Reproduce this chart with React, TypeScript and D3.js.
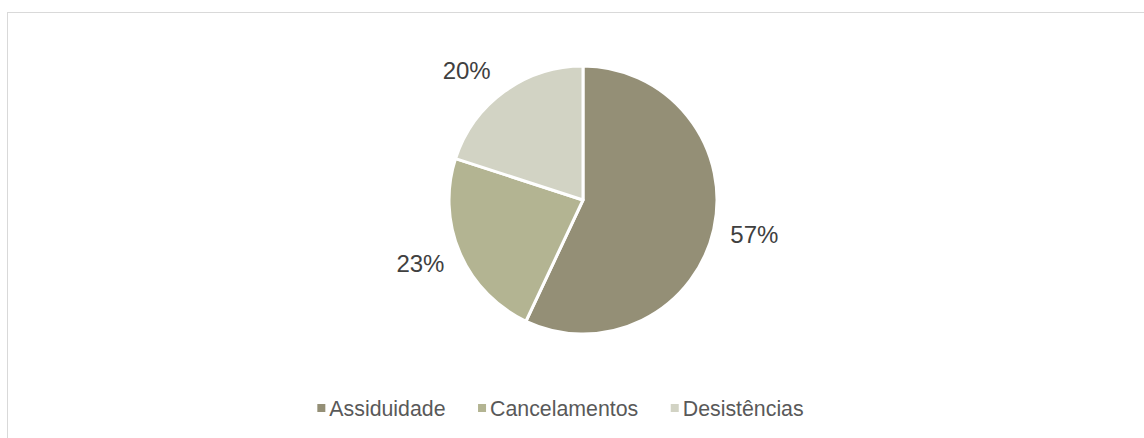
import React, { useEffect, useRef } from "react";
import * as d3 from "d3";

const categories = ["Assiduidade", "Cancelamentos", "Desistências"];
const values = [57, 23, 20];
const colors = ["#948F76", "#B3B492", "#D2D3C4"];

const W = 1144;
const H = 438;

export default function App() {
  const ref = useRef<SVGSVGElement | null>(null);

  useEffect(() => {
    const svg = d3.select(ref.current);
    svg.selectAll("*").remove();

    svg
      .append("rect")
      .attr("x", 7.5)
      .attr("y", 12.5)
      .attr("width", 1300)
      .attr("height", 600)
      .attr("fill", "#fff")
      .attr("stroke", "#D9D9D9")
      .attr("stroke-width", 1);

    const cx = 583;
    const cy = 200;
    const r = 134;

    const pie = d3.pie<number>().sort(null).value((d) => d);
    const arcs = pie(values);
    const arc = d3.arc<d3.PieArcDatum<number>>().innerRadius(0).outerRadius(r);

    const g = svg.append("g").attr("transform", `translate(${cx},${cy})`);
    g.selectAll("path")
      .data(arcs)
      .join("path")
      .attr("d", arc as any)
      .attr("fill", (_d, i) => colors[i])
      .attr("stroke", "#fff")
      .attr("stroke-width", 3)
      .attr("stroke-linejoin", "round");

    const total = d3.sum(values);
    const fs = 24;
    const L = 151;
    arcs.forEach((a) => {
      const mid = (a.startAngle + a.endAngle) / 2;
      const dx = Math.sin(mid);
      const dy = -Math.cos(mid);
      const txt = `${Math.round((a.value / total) * 100)}%`;
      const t = g
        .append("text")
        .attr("font-family", "Liberation Sans, Arial, sans-serif")
        .attr("font-size", fs)
        .attr("fill", "#404040")
        .attr("text-anchor", "middle")
        .text(txt);
      const w = (t.node() as SVGTextElement).getComputedTextLength();
      const h = 18;
      const f = Math.max(-1, Math.min(1, dx * 2.2));
      const x = dx * L + (f * w) / 2 + (Math.abs(dx) < 0.7 ? dx * 6 : 0);
      const y = dy * L + (dy * h) / 2;
      t.attr("x", x).attr("y", y + fs * 0.716 / 2);
    });

    // legend
    const lfs = 21.33;
    const lg = svg.append("g");
    const items = categories.map((c, i) => {
      const gi = lg.append("g");
      gi.append("rect")
        .attr("width", 8)
        .attr("height", 8)
        .attr("fill", colors[i]);
      const t = gi
        .append("text")
        .attr("x", 12)
        .attr("y", 11.5)
        .attr("font-family", "Liberation Sans, Arial, sans-serif")
        .attr("font-size", lfs)
        .attr("fill", "#595959")
        .text(c);
      const w = (t.node() as SVGTextElement).getComputedTextLength();
      return { gi, w: 12 + w };
    });
    const gap = 32.5;
    const totalW = d3.sum(items, (d) => d.w) + gap * (items.length - 1);
    let x0 = 560.5 - totalW / 2;
    items.forEach((it) => {
      it.gi.attr("transform", `translate(${x0},404)`);
      x0 += it.w + gap;
    });
  }, []);

  return (
    <svg
      ref={ref}
      width={W}
      height={H}
      style={{ position: "absolute", left: 0, top: 0, background: "#fff" }}
    />
  );
}
